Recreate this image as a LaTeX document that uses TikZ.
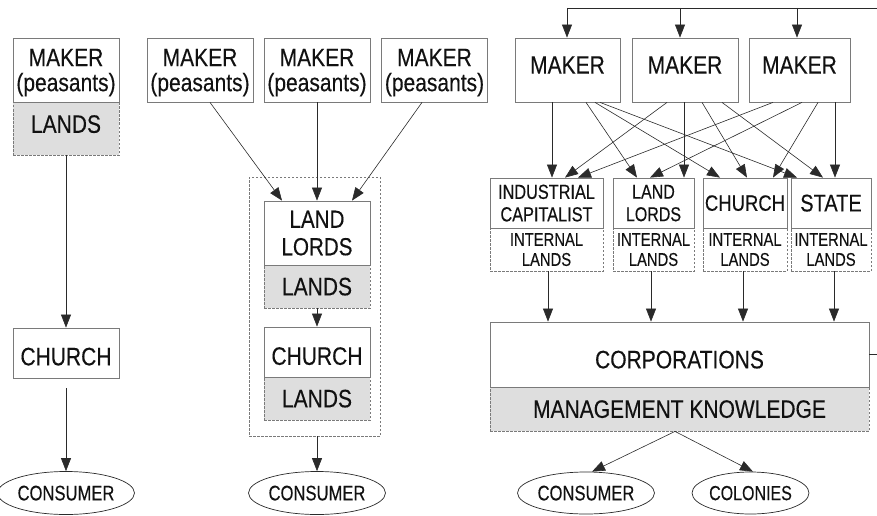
\documentclass[tikz,border=0pt]{standalone}
\usepackage{fontspec}
\setmainfont{Liberation Sans}[FakeBold=0.3]
\usepackage{graphicx}
\usetikzlibrary{arrows.meta,shapes.geometric,calc}
\definecolor{bordergray}{HTML}{7A7A7A}
\definecolor{linegray}{HTML}{2A2A2A}
\definecolor{fillgray}{HTML}{DEDEDE}
\definecolor{txtcol}{HTML}{111111}
\newcommand\vs[2][1.2]{\scalebox{1}[#1]{#2}}
\begin{document}
\begin{tikzpicture}[x=1pt,y=-1pt,
  mbox/.style={draw=bordergray, line width=0.8pt, fill=white, inner sep=0pt, text=txtcol, rectangle, align=center, text depth=0pt},
  landbox/.style={draw=bordergray, dash pattern=on 2.5pt off 1.5pt, line width=0.8pt, fill=fillgray, inner sep=0pt, text=txtcol, rectangle, align=center, text depth=0pt},
  ilandbox/.style={landbox, fill=white},
  ovalnode/.style={ellipse, draw=linegray, line width=0.7pt, inner sep=0pt, text=txtcol, align=center, text depth=0pt},
  fbig/.style={font=\fontsize{21}{25}\selectfont},
  fcap/.style={font=\fontsize{16.3}{22.5}\selectfont},
  fint/.style={font=\fontsize{14.8}{20}\selectfont},
  fcons/.style={font=\fontsize{16.6}{20}\selectfont},
  arw/.style={draw=linegray, line width=0.6pt, -{Triangle[length=13pt,width=10pt]}},
  ln/.style={draw=linegray, line width=0.6pt}]
\useasboundingbox (0,0) rectangle (877,516);

% ---------- left column ----------
\node[landbox, fbig, minimum width=106pt, minimum height=53pt] (llands) at (66,128.5) {\raisebox{9pt}{\vs{LANDS}}};
\node[mbox, fbig, minimum width=106pt, minimum height=64pt] (lmaker) at (66,70) {\vs{MAKER}\\\vs{(peasants)}};
\node[mbox, fbig, minimum width=106pt, minimum height=50pt] (lchurch) at (66,353) {\raisebox{-7pt}{\vs{CHURCH}}};
\node[ovalnode, fcons, minimum width=107pt, minimum height=43pt] (lcons) at (66,493) {\vs[1.27]{CONSUMER}};
\draw[arw] (llands.south) -- (lchurch.north);
\draw[arw, shorten <=10pt] (lchurch.south) -- (lcons.north);

% ---------- middle column ----------
\node[draw=bordergray, dash pattern=on 2.5pt off 1.5pt, line width=0.8pt, minimum width=131pt, minimum height=259pt, inner sep=0pt] (mouter) at (314.5,306.5) {};
\node[mbox, fbig, minimum width=106pt, minimum height=64pt] (mm1) at (200,70) {\vs{MAKER}\\\vs{(peasants)}};
\node[mbox, fbig, minimum width=106pt, minimum height=64pt] (mm2) at (317,70) {\vs{MAKER}\\\vs{(peasants)}};
\node[mbox, fbig, minimum width=106pt, minimum height=64pt] (mm3) at (434.5,70) {\vs{MAKER}\\\vs{(peasants)}};
\node[landbox, fbig, minimum width=106pt, minimum height=43pt] (mlands1) at (317,286.5) {\vs{LANDS}};
\node[mbox, minimum width=106pt, minimum height=64pt, font=\fontsize{20.6}{27.5}\selectfont] (mlords) at (317,233) {\vs{LAND}\\\vs{LORDS}};
\node[landbox, fbig, minimum width=106pt, minimum height=43pt] (mlands2) at (317,398.5) {\vs{LANDS}};
\node[mbox, fbig, minimum width=106pt, minimum height=50pt] (mchurch) at (317,352) {\raisebox{-8pt}{\vs{CHURCH}}};
\node[ovalnode, fcons, minimum width=107pt, minimum height=43pt] (mcons) at (317,493) {\vs[1.27]{CONSUMER}};
\draw[arw] ([xshift=10pt]mm1.south) -- ([xshift=-35pt]mlords.north);
\draw[arw] (mm2.south) -- (mlords.north);
\draw[arw] ([xshift=-12.5pt]mm3.south) -- ([xshift=35pt]mlords.north);
\draw[arw] (mlands1.south) -- (mchurch.north);
\draw[arw] (mcons.north |- mouter.south) -- (mcons.north);

% ---------- right part ----------
\node[mbox, fbig, minimum width=105pt, minimum height=64pt] (rm1) at (567.5,70) {\raisebox{10pt}{\vs{MAKER}}};
\node[mbox, fbig, minimum width=106pt, minimum height=64pt] (rm2) at (685,70) {\raisebox{10pt}{\vs{MAKER}}};
\node[mbox, fbig, minimum width=101pt, minimum height=64pt] (rm3) at (799.5,70) {\raisebox{10pt}{\vs{MAKER}}};

\node[ilandbox, fint, minimum width=113pt, minimum height=43pt] (icl) at (546.5,249.5) {\vs[1.25]{INTERNAL}\\\vs[1.25]{LANDS}};
\node[ilandbox, fint, minimum width=81pt, minimum height=43pt] (lll) at (653.5,249.5) {\vs[1.25]{INTERNAL}\\\vs[1.25]{LANDS}};
\node[ilandbox, fint, minimum width=84pt, minimum height=43pt] (chl) at (745,249.5) {\vs[1.25]{INTERNAL}\\\vs[1.25]{LANDS}};
\node[ilandbox, fint, minimum width=80pt, minimum height=43pt] (stl) at (831,249.5) {\vs[1.25]{INTERNAL}\\\vs[1.25]{LANDS}};
\node[mbox, fcap, minimum width=113pt, minimum height=50pt] (ric) at (546.5,203) {\vs[1.25]{INDUSTRIAL}\\\vs[1.25]{CAPITALIST}};
\node[mbox, minimum width=81pt, minimum height=50pt, font=\fontsize{16}{22.5}\selectfont] (rll) at (653.5,203) {\vs[1.25]{LAND}\\\vs[1.25]{LORDS}};
\node[mbox, minimum width=84pt, minimum height=50pt, font=\fontsize{18.5}{22}\selectfont] (rch) at (745,203) {\vs{CHURCH}};
\node[mbox, minimum width=80pt, minimum height=50pt, font=\fontsize{20}{24}\selectfont] (rst) at (831,203) {\vs{STATE}};

\node[landbox, fbig, minimum width=379pt, minimum height=44pt] (mk) at (679.5,409) {\vs{MANAGEMENT KNOWLEDGE}};
\node[mbox, fbig, minimum width=379pt, minimum height=65pt] (corp) at (679.5,354.5) {\raisebox{-10pt}{\vs{CORPORATIONS}}};
\node[ovalnode, fcons, minimum width=112pt, minimum height=42pt] (rcons) at (586,493) {\vs[1.27]{CONSUMER}};
\node[ovalnode, minimum width=105pt, minimum height=42pt, font=\fontsize{16}{20}\selectfont] (col) at (750.5,493) {\vs[1.27]{COLONIES}};

% feedback loop
\coordinate (tr) at (879,8);
\coordinate (t1) at (567,8);
\coordinate (t2) at (680,8);
\coordinate (t3) at (797,8);
\draw[ln] (corp.east) -| (tr) -- (t1);
\draw[arw] (t1) -- (t1 |- rm1.north);
\draw[arw] (t2) -- (t2 |- rm2.north);
\draw[arw] (t3) -- (t3 |- rm3.north);

% makers to institutions
\foreach \s/\sx/\t/\tx in {rm1/-15.5/ric/5.5, rm1/18.5/rll/-16.5, rm1/27.5/rch/-25, rm1/32.5/rst/-34,
  rm2/-18/ric/18.5, rm2/-1/rll/30.5, rm2/17/rch/2, rm2/37/rst/-8,
  rm3/-26.5/ric/31.5, rm3/2.5/rll/-3.5, rm3/18.5/rch/28, rm3/35.5/rst/4}
  \draw[arw] ([xshift=\sx pt]\s.south) -- ([xshift=\tx pt]\t.north);

% internal lands to corporations
\foreach \n/\dx in {icl/1.5, lll/-2.5, chl/-2, stl/3}
  \draw[arw] ([xshift=\dx pt]\n.south) -- ([xshift=\dx pt]\n.south |- corp.north);

% management knowledge to consumer and colonies
\draw[arw] ([xshift=-4.5pt]mk.south) -- ([xshift=6pt]rcons.north);
\draw[arw] ([xshift=-4.5pt]mk.south) -- ([xshift=2.5pt]col.north);
\end{tikzpicture}
\end{document}
